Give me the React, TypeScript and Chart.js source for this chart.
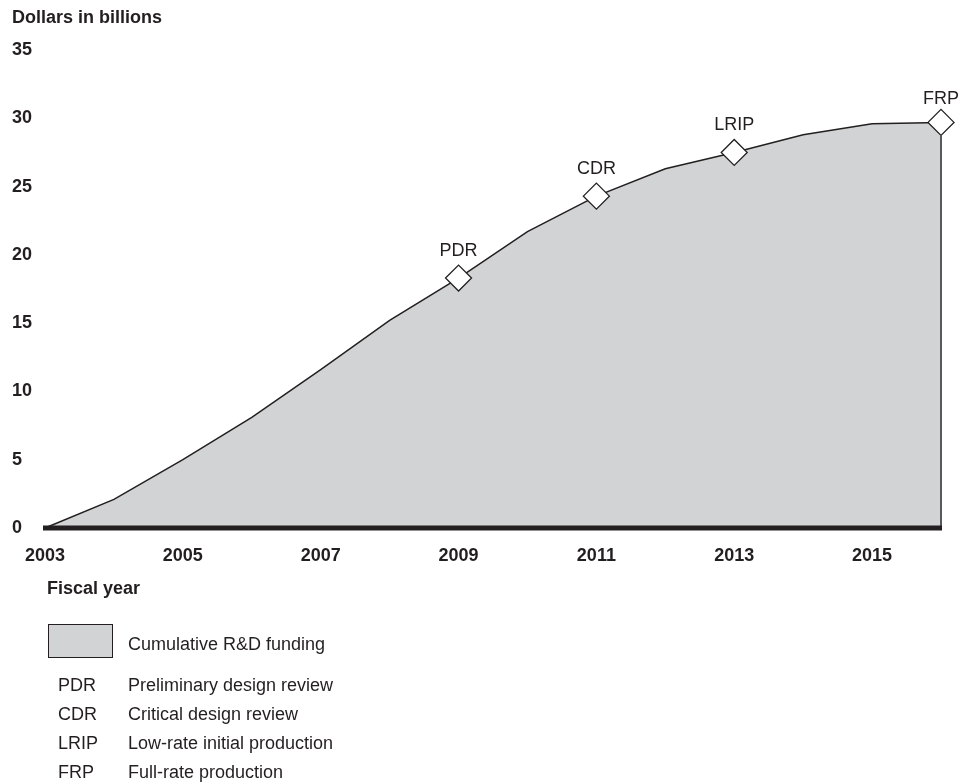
import React, { useEffect, useRef } from 'react';
import { Chart, registerables } from 'chart.js';

Chart.register(...registerables);

// ---- data ----
const years = ['2003', '2004', '2005', '2006', '2007', '2008', '2009', '2010', '2011', '2012', '2013', '2014', '2015', '2016'];
const funding = [0, 2.1, 5.0, 8.1, 11.6, 15.2, 18.3, 21.7, 24.3, 26.3, 27.5, 28.8, 29.6, 29.7];
const xTickLabels = ['2003', '2005', '2007', '2009', '2011', '2013', '2015'];
const yTickValues = [0, 5, 10, 15, 20, 25, 30, 35];
const milestoneYears = ['2009', '2011', '2013', '2016'];
const milestoneLabels = ['PDR', 'CDR', 'LRIP', 'FRP'];
const legendAbbrev = ['PDR', 'CDR', 'LRIP', 'FRP'];
const legendDesc = ['Preliminary design review', 'Critical design review', 'Low-rate initial production', 'Full-rate production'];
const seriesLabel = 'Cumulative R&D funding';
const yTitle = 'Dollars in billions';
const xTitle = 'Fiscal year';

const FONT = '"Liberation Sans", Arial, Helvetica, sans-serif';
const INK = '#231f20';
const FILL = '#d1d3d4';
const DIAMOND_R = 13;

const overlayPlugin = {
  id: 'overlay',
  afterDatasetsDraw(chart: any) {
    const { ctx, chartArea } = chart;
    const xs = chart.scales.x;
    const ys = chart.scales.y;
    const y0 = ys.getPixelForValue(0);
    ctx.save();
    // right edge of the area
    const li = funding.length - 1;
    const xr = xs.getPixelForValue(li);
    const yr = ys.getPixelForValue(funding[li]);
    ctx.strokeStyle = '#58595b';
    ctx.lineWidth = 2;
    ctx.beginPath();
    ctx.moveTo(xr, yr + DIAMOND_R);
    ctx.lineTo(xr, y0);
    ctx.stroke();
    // thick baseline
    ctx.fillStyle = INK;
    ctx.fillRect(chartArea.left - 2, y0 - 2.5, chartArea.right - chartArea.left + 3, 5);
    // milestone labels
    ctx.font = `18px ${FONT}`;
    ctx.textAlign = 'center';
    ctx.textBaseline = 'alphabetic';
    ctx.fillStyle = INK;
    milestoneYears.forEach((yr2, i) => {
      const idx = years.indexOf(yr2);
      const px = xs.getPixelForValue(idx);
      const py = ys.getPixelForValue(funding[idx]);
      const off = i === milestoneYears.length - 1 ? 25 : 28.5;
      ctx.fillText(milestoneLabels[i], px, py - off + 6.5);
    });
    ctx.restore();
  },
};

export default function App() {
  const ref = useRef<HTMLCanvasElement | null>(null);

  useEffect(() => {
    if (!ref.current) return;
    const radii = years.map((y) => (milestoneYears.includes(y) ? DIAMOND_R : 0));
    const chart = new Chart(ref.current, {
      type: 'line',
      data: {
        labels: years,
        datasets: [
          {
            label: seriesLabel,
            data: funding,
            fill: 'origin',
            backgroundColor: FILL,
            borderColor: INK,
            borderWidth: 1.5,
            tension: 0,
            pointStyle: 'rectRot',
            pointRadius: radii,
            pointHoverRadius: radii,
            pointBackgroundColor: '#ffffff',
            pointBorderColor: INK,
            pointBorderWidth: 1.3,
            clip: false as any,
          },
        ],
      },
      options: {
        responsive: false,
        animation: false,
        events: [],
        layout: { padding: { left: 12, top: 50, right: 31, bottom: 0 } },
        plugins: {
          legend: { display: false },
          tooltip: { enabled: false },
          title: { display: false },
        },
        scales: {
          x: {
            type: 'category',
            offset: false,
            grid: { display: false, drawTicks: false },
            border: { display: false },
            ticks: {
              autoSkip: false,
              maxRotation: 0,
              padding: 17,
              color: INK,
              font: { family: FONT, size: 18, weight: 'bold' },
              callback: (_v: any, i: number) => (xTickLabels.includes(years[i]) ? years[i] : ''),
            },
            afterFit: (s: any) => {
              s.height = 255;
            },
          },
          y: {
            min: 0,
            max: 35,
            grid: { display: false, drawTicks: false },
            border: { display: false },
            afterBuildTicks: (s: any) => {
              s.ticks = yTickValues.map((v) => ({ value: v }));
            },
            ticks: {
              padding: 0,
              crossAlign: 'far',
              color: INK,
              font: { family: FONT, size: 18, weight: 'bold' },
            },
            afterFit: (s: any) => {
              s.width = 33;
            },
          },
        },
      },
      plugins: [overlayPlugin],
    });
    return () => chart.destroy();
  }, []);

  const txt: React.CSSProperties = {
    position: 'absolute',
    fontFamily: FONT,
    fontSize: 18,
    lineHeight: '20px',
    color: INK,
    whiteSpace: 'nowrap',
    margin: 0,
  };

  return (
    <div style={{ position: 'absolute', left: 0, top: 0, width: 972, height: 783, background: '#ffffff' }}>
      <canvas ref={ref} width={972} height={783} style={{ position: 'absolute', left: 0, top: 0 }} />
      <div style={{ ...txt, left: 12, top: 7, fontWeight: 'bold' }}>{yTitle}</div>
      <div style={{ ...txt, left: 47, top: 578, fontWeight: 'bold' }}>{xTitle}</div>
      <div
        style={{
          position: 'absolute',
          left: 48,
          top: 624,
          width: 63,
          height: 32,
          background: FILL,
          border: `1px solid ${INK}`,
        }}
      />
      <div style={{ ...txt, left: 128, top: 634 }}>{seriesLabel}</div>
      {legendAbbrev.map((a, i) => (
        <React.Fragment key={a}>
          <div style={{ ...txt, left: 58, top: 674.5 + i * 29 }}>{a}</div>
          <div style={{ ...txt, left: 128, top: 674.5 + i * 29 }}>{legendDesc[i]}</div>
        </React.Fragment>
      ))}
    </div>
  );
}
